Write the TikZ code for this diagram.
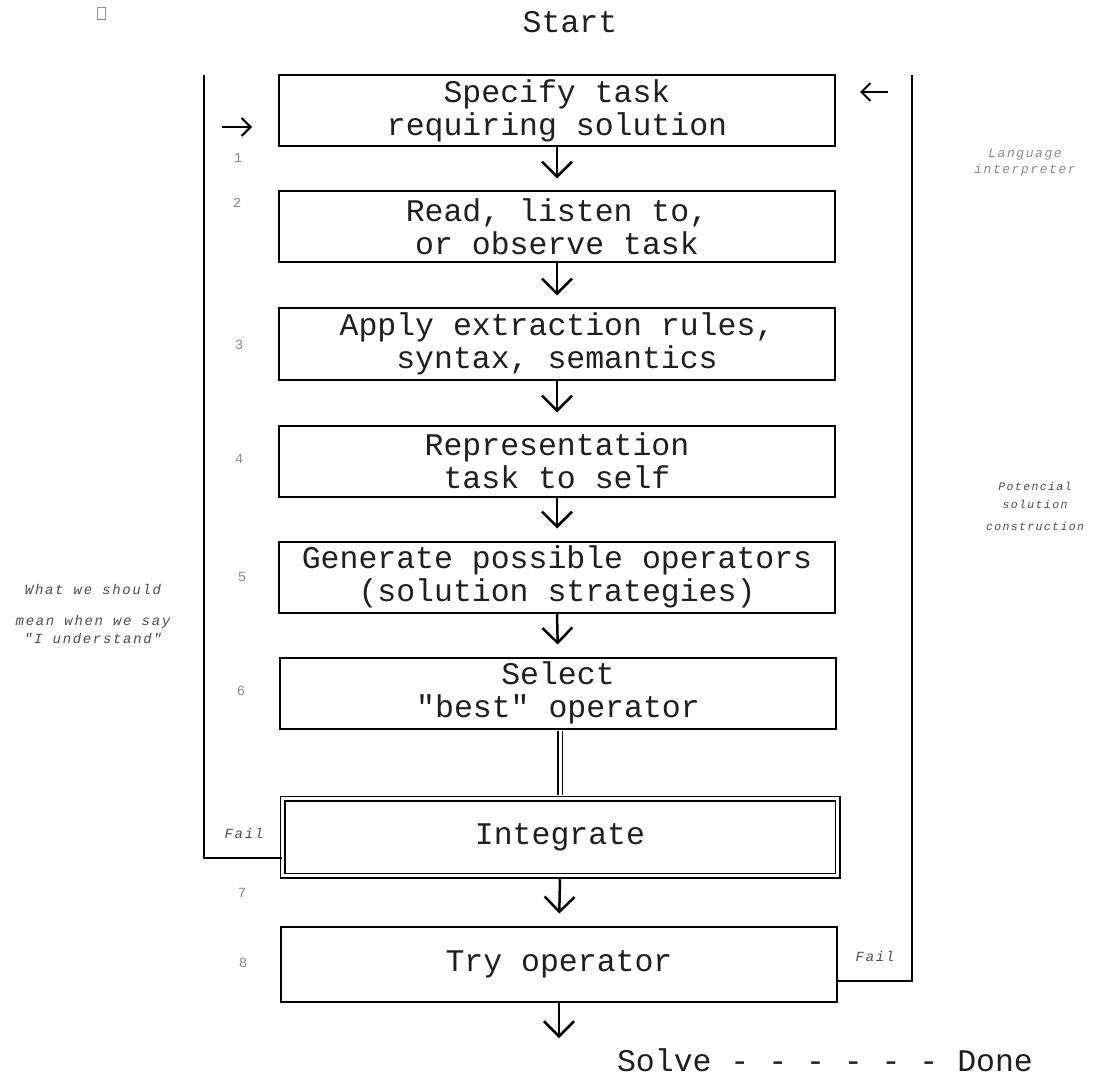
\documentclass[tikz,border=0pt]{standalone}
\usepackage{fontspec}
\setmonofont{Liberation Mono}
\newfontfamily\notefont[LetterSpace=12]{Liberation Mono}
\usepackage{tikz}
\usetikzlibrary{arrows.meta, positioning, calc}
\definecolor{boxtext}{rgb}{0.12,0.12,0.12}
\definecolor{notegray}{rgb}{0.3,0.3,0.3}
\definecolor{palegray}{rgb}{0.55,0.55,0.55}
\newcommand{\bigtt}{\ttfamily\fontsize{31.5}{33}\selectfont}
\newcommand{\notett}{\notefont\itshape\fontsize{14}{18}\selectfont}
\newcommand{\sidett}{\notefont\itshape\fontsize{11.5}{18}\selectfont}
\newcommand{\langtt}{\notefont\itshape\fontsize{13}{16}\selectfont}
\newcommand{\failtt}{\notefont\itshape\fontsize{14}{18}\selectfont}
\newcommand{\numtt}{\ttfamily\fontsize{14}{17}\selectfont}
\tikzset{
	stepbox/.style={draw, line width=2pt, minimum width=\boxw pt, minimum height=\boxh pt, align=center, inner sep=0pt, text=boxtext, font=\bigtt},
	flowarrow/.style={line width=2.5pt, -{Straight Barb[length=15pt,width=30pt]}, shorten >=12pt},
	sidearrow/.style={line width=2pt, -{Straight Barb[length=9pt,width=18pt]}},
	loopline/.style={line width=2pt, line join=miter},
	stepno/.style={font=\numtt, text=palegray}
}

\begin{document}
\begin{tikzpicture}[x=1pt, y=-1pt]
	\pgfmathsetmacro{\boxw}{556}
	\pgfmathsetmacro{\boxh}{71}
	\fill[white] (0,0) rectangle (1096,1078);
	\useasboundingbox (0,0) rectangle (1096,1078);
	\draw[palegray, line width=1pt] (97,8) rectangle (105,20);

	\node[font=\bigtt, text=boxtext] (start) at (570,22) {Start};

	\node[stepbox] (b1) at (557,111) {Specify task\\requiring solution};
	\node[stepbox] (b2) at (557,227) {Read, listen to,\\or observe task};
	\node[stepbox] (b3) at (557,344) {Apply extraction rules,\\syntax, semantics};
	\node[stepbox] (b4) at (557,461) {Representation\\task to self};
	\node[stepbox] (b5) at (557,577) {Generate possible operators\\(solution strategies)};
	\node[stepbox] (b6) at (558,693) {Select\\"best" operator};
	\node[stepbox, double, double distance=3pt, line width=1.5pt, minimum width=555pt, minimum height=77pt] (b7) at (560,837) {Integrate};
	\node[stepbox, minimum height=75pt] (b8) at (559,964) {Try operator};

	\draw[flowarrow] (b1.south) -- (b2.north);
	\draw[flowarrow] (b2.south) -- (b3.north);
	\draw[flowarrow] (b3.south) -- (b4.north);
	\draw[flowarrow] (b4.south) -- (b5.north);
	\draw[flowarrow] (b5.south) -- (b6.north);
	\draw[double, double distance=3pt, line width=1.2pt, shorten <=1pt, shorten >=3pt] (b7.north |- b6.south) -- (b7.north);
	\draw[flowarrow] ([yshift=-3pt]b7.south) -- (b8.north);
	\coordinate (endtip) at (559,1038);
	\draw[flowarrow, shorten >=0pt] (b8.south) -- (endtip);

	\node[font=\bigtt, text=boxtext] (solve) at (825,1060) {Solve - - - - - - Done};

	\coordinate (ltop) at (204,75);
	\coordinate (lfail) at (204,858);
	\draw[loopline] (b7.west |- lfail) -- (lfail) -- (ltop);
	\coordinate (rtop) at (912,75);
	\coordinate (rfail) at (912,981);
	\draw[loopline] (b8.east |- rfail) -- (rfail) -- (rtop);

	\coordinate (lin) at (222,127);
	\draw[sidearrow] (lin) -- ++(30,0);
	\coordinate (rin) at (888,92);
	\draw[sidearrow] (rin) -- ++(-28,0);

	\node[font=\failtt, text=notegray] (faill) at (244,833) {Fail};
	\node[font=\failtt, text=notegray] (failr) at (875,956) {Fail};
	\node[font=\notett, text=notegray, align=center] (understand) at (93,614) {What we should\\[13pt]mean when we say\\"I understand"};
	\node[font=\langtt, text=palegray, align=center] (lang) at (1025,163) {Language\\interpreter};
	\node[font=\sidett, text=notegray, align=center] (potential) at (1035,506) {Potencial\\solution\\[4pt]construction};

	\node[stepno] (n1) at (238,158) {1};
	\node[stepno] (n2) at (237,203) {2};
	\node[stepno] (n3) at (239,345) {3};
	\node[stepno] (n4) at (239,459) {4};
	\node[stepno] (n5) at (242,577) {5};
	\node[stepno] (n6) at (241,691) {6};
	\node[stepno] (n7) at (242,893) {7};
	\node[stepno] (n8) at (243,963) {8};
\end{tikzpicture}
\end{document}
